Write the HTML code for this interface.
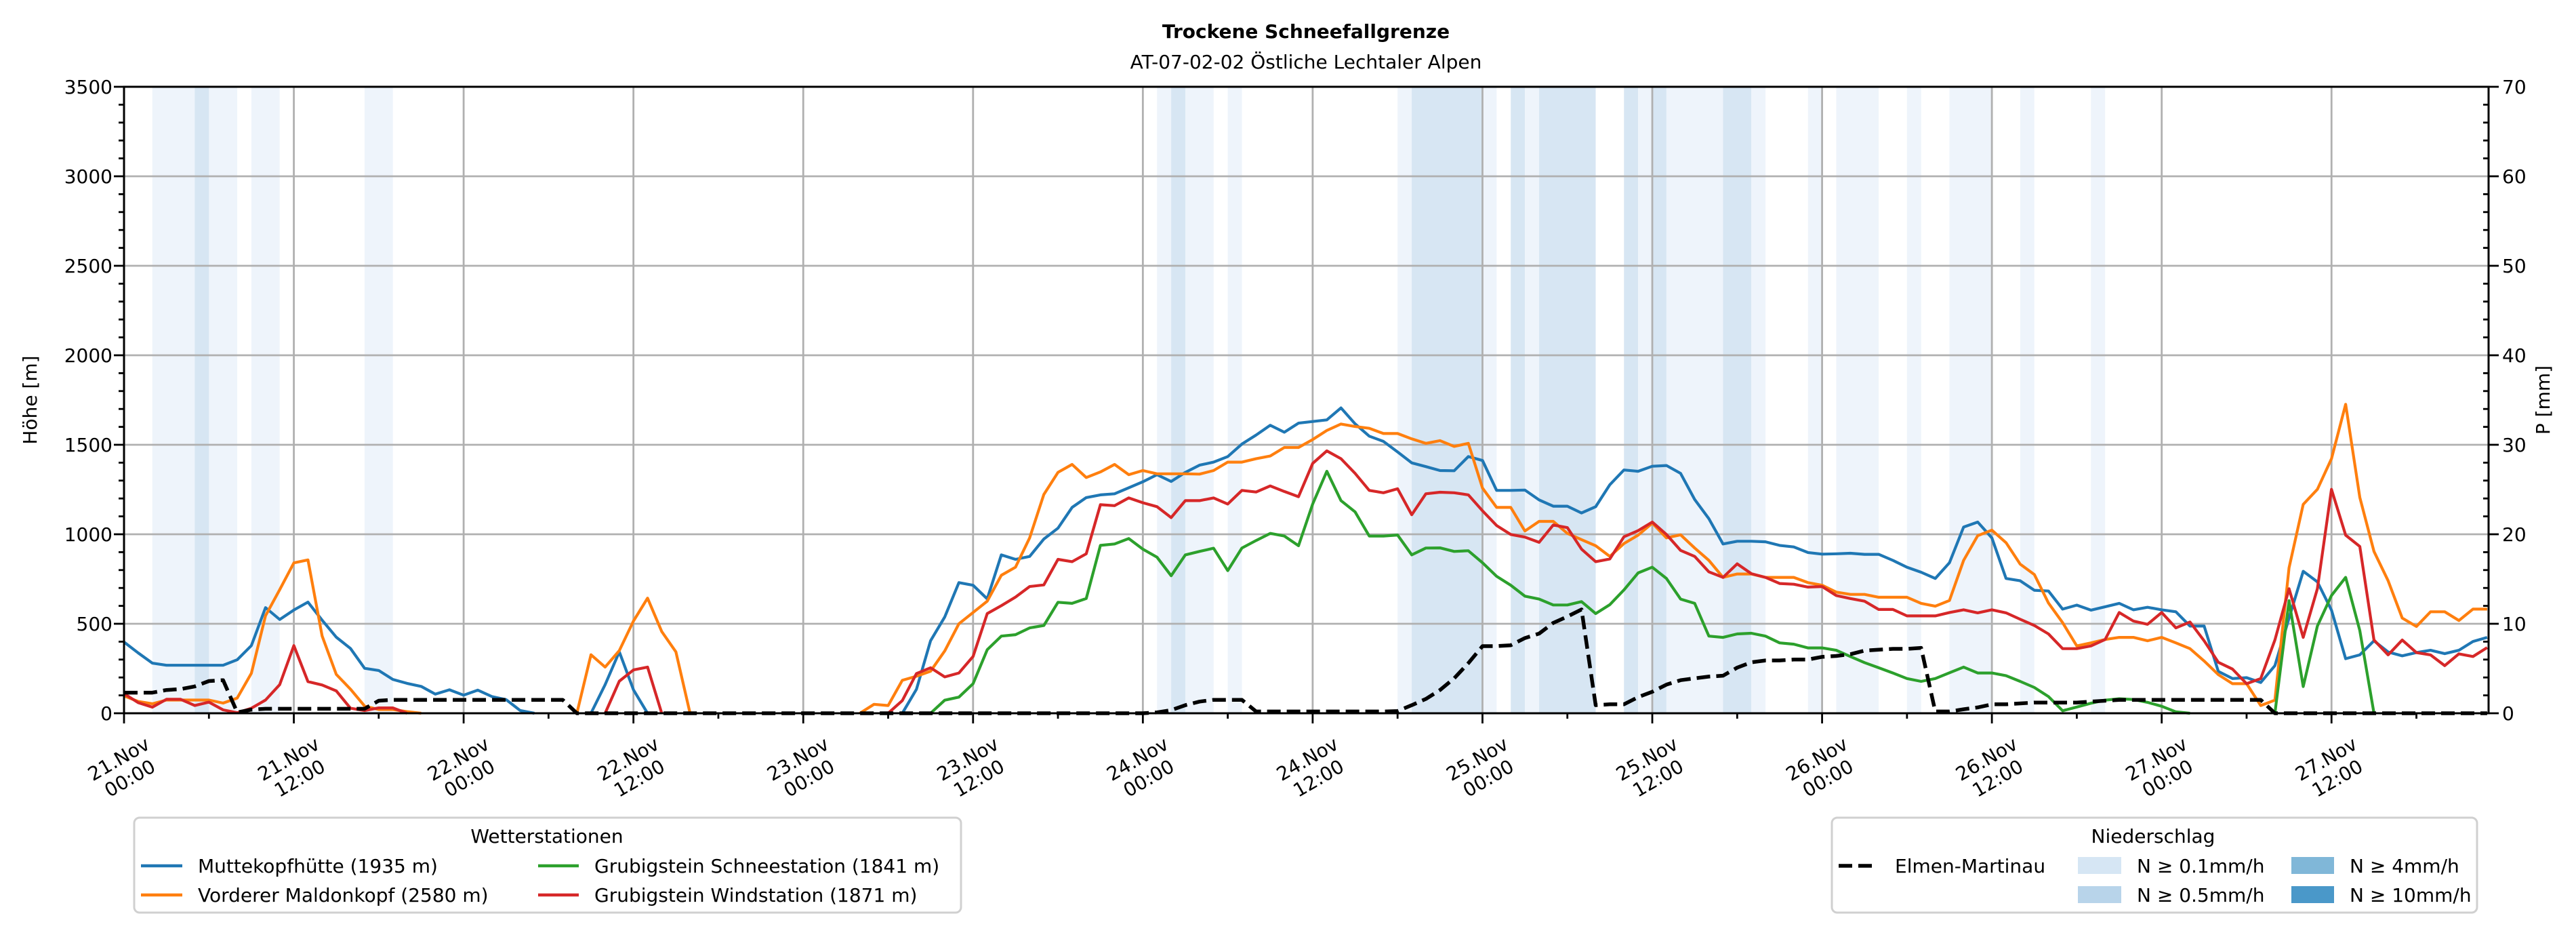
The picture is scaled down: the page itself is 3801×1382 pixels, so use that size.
<!DOCTYPE html>
<html><head><meta charset="utf-8"><style>
body{margin:0;background:#fff}
svg text{font-family:"DejaVu Sans","Liberation Sans",sans-serif;fill:#000}
</style></head><body>
<svg id="chart" xmlns="http://www.w3.org/2000/svg" width="3801" height="1377" viewBox="0 0 3801 1377">
<rect x="0" y="0" width="3801" height="1377" fill="#fff"/>
<g id="bands"></g>
<g id="grid"></g>
<g id="series"></g>
<g id="axes"></g>
<text x="1927" y="56" font-size="28" font-weight="bold" text-anchor="middle">Trockene Schneefallgrenze</text>
<text x="1927" y="101" font-size="28" text-anchor="middle">AT-07-02-02 Östliche Lechtaler Alpen</text>
<text transform="translate(54,590) rotate(-90)" font-size="28" text-anchor="middle">Höhe [m]</text>
<text transform="translate(3762,590) rotate(-90)" font-size="28" text-anchor="middle">P [mm]</text>

<g>
<rect x="198" y="1206" width="1220" height="140" rx="8" fill="#fff" stroke="#d0d0d0" stroke-width="3"/>
<text x="807" y="1243" font-size="28" text-anchor="middle">Wetterstationen</text>
<g><line x1="208" y1="1277" x2="269" y2="1277" stroke="#1f77b4" stroke-width="4.5"/><text x="292" y="1287" font-size="28">Muttekopfhütte (1935 m)</text></g>
<g><line x1="208" y1="1320" x2="269" y2="1320" stroke="#ff7f0e" stroke-width="4.5"/><text x="292" y="1330" font-size="28">Vorderer Maldonkopf (2580 m)</text></g>
<g><line x1="794" y1="1277" x2="854" y2="1277" stroke="#2ca02c" stroke-width="4.5"/><text x="877" y="1287" font-size="28">Grubigstein Schneestation (1841 m)</text></g>
<g><line x1="794" y1="1320" x2="854" y2="1320" stroke="#d62728" stroke-width="4.5"/><text x="877" y="1330" font-size="28">Grubigstein Windstation (1871 m)</text></g>
</g>

<g>
<rect x="2703" y="1206" width="952" height="140" rx="8" fill="#fff" stroke="#d0d0d0" stroke-width="3"/>
<text x="3177" y="1243" font-size="28" text-anchor="middle">Niederschlag</text>
<g><line x1="2713" y1="1277" x2="2768" y2="1277" stroke="#000" stroke-width="5.5" stroke-dasharray="20,9"/><text x="2796" y="1287" font-size="28">Elmen-Martinau</text></g>
<g><rect x="3066" y="1264" width="64" height="25" fill="#d6e6f4"/><text x="3153" y="1287" font-size="28">N ≥ 0.1mm/h</text></g>
<g><rect x="3066" y="1307" width="64" height="25" fill="#b8d4ea"/><text x="3153" y="1330" font-size="28">N ≥ 0.5mm/h</text></g>
<g><rect x="3381" y="1264" width="63" height="25" fill="#80b7d8"/><text x="3467" y="1287" font-size="28">N ≥ 4mm/h</text></g>
<g><rect x="3381" y="1307" width="63" height="25" fill="#4a98c9"/><text x="3467" y="1330" font-size="28">N ≥ 10mm/h</text></g>
</g>
</svg>
<script>
const N = null;
// hours since 21.Nov 00:00
const hours = Array.from({length:168},(_, i)=>i);
const muttekopf = [398,337,280,268,268,268,268,268,299,378,590,524,577,621,520,425,362,251,239,189,167,150,107,131,101,129,93,76,15,0,N,N,N,0,160,343,131,0,N,N,N,N,N,N,N,N,N,N,N,N,N,N,N,N,N,0,134,405,538,730,715,639,885,860,876,973,1034,1150,1205,1220,1226,1260,1293,1333,1295,1346,1386,1403,1434,1504,1554,1609,1570,1621,1630,1639,1706,1617,1548,1519,1460,1399,1378,1356,1355,1434,1412,1245,1245,1247,1192,1157,1157,1119,1154,1277,1359,1352,1380,1384,1340,1194,1087,946,961,961,958,938,929,898,889,891,894,888,888,854,816,788,753,841,1040,1068,980,753,740,687,683,582,604,576,595,614,578,592,578,567,487,487,234,194,199,172,266,532,793,734,576,305,326,405,342,321,339,352,333,352,401,424];
const maldonkopf = [97,66,53,74,74,74,74,57,85,223,545,690,840,857,432,217,135,40,21,21,9,0,N,N,N,N,N,N,N,N,N,N,0,327,258,350,515,643,457,343,0,N,N,N,N,N,N,N,N,N,N,N,0,50,43,184,207,235,348,500,563,626,771,816,980,1222,1346,1390,1317,1348,1390,1333,1356,1338,1338,1338,1336,1356,1403,1403,1422,1437,1485,1485,1529,1580,1616,1602,1592,1563,1563,1533,1508,1523,1491,1508,1258,1150,1150,1018,1072,1072,1005,970,936,876,948,995,1062,980,997,923,854,759,778,778,759,759,759,730,715,677,664,664,648,648,648,614,598,630,854,992,1023,953,833,775,616,506,376,393,412,424,424,405,424,393,361,292,216,165,165,43,73,813,1167,1251,1422,1726,1206,904,740,532,485,567,567,518,582,582];
const grubSchnee = [N,N,N,N,N,N,N,N,N,N,N,N,N,N,N,N,N,N,N,N,N,N,N,N,N,N,N,N,N,N,N,N,N,N,N,N,N,N,N,N,N,N,N,N,N,N,N,N,N,N,N,N,N,N,N,N,N,0,73,90,165,355,431,439,477,490,620,614,641,938,946,976,917,872,768,885,904,922,797,923,965,1005,990,936,1169,1352,1188,1125,990,990,996,885,923,924,904,908,841,765,715,654,638,605,605,624,557,607,689,784,816,753,638,614,431,424,443,447,431,393,386,365,365,352,317,283,254,225,194,178,194,226,258,225,225,210,178,144,93,14,35,56,73,81,77,61,39,8,0,N,N,N,N,N,0,629,149,487,658,759,462,0,N,N,N,N,N,N,N,N];
const grubWind = [110,59,34,78,78,43,62,19,3,28,74,160,378,177,158,125,28,15,30,30,0,N,N,N,N,N,N,N,N,N,N,N,N,N,0,179,242,258,0,N,N,N,N,N,N,N,N,N,N,N,N,N,N,N,0,71,222,254,203,225,317,557,601,649,708,717,860,847,891,1165,1160,1203,1176,1154,1093,1188,1188,1203,1169,1245,1236,1270,1239,1210,1396,1466,1422,1340,1245,1232,1254,1109,1226,1235,1232,1220,1131,1049,999,984,955,1052,1037,917,847,862,986,1020,1068,999,910,876,790,759,835,780,759,725,721,705,708,658,641,626,580,580,544,544,544,563,578,561,578,561,525,490,443,361,361,376,412,563,515,497,563,477,510,405,285,247,165,194,409,696,424,696,1251,995,932,409,326,409,339,326,266,332,317,367];
// Elmen-Martinau precipitation sum [mm]
const elmenMm = [2.3,2.3,2.3,2.6,2.7,3.0,3.6,3.7,0.1,0.4,0.5,0.5,0.5,0.5,0.5,0.5,0.5,0.5,1.4,1.5,1.5,1.5,1.5,1.5,1.5,1.5,1.5,1.5,1.5,1.5,1.5,1.5,0,0,0,0,0,0,0,0,0,0,0,0,0,0,0,0,0,0,0,0,0,0,0,0,0,0,0,0,0,0,0,0,0,0,0,0,0,0,0,0,0,0.1,0.35,0.9,1.3,1.5,1.5,1.5,0.2,0.2,0.2,0.2,0.2,0.2,0.2,0.2,0.2,0.2,0.25,0.9,1.6,2.6,3.9,5.6,7.5,7.5,7.6,8.4,8.9,10.1,10.8,11.6,0.9,1.0,1.0,1.8,2.4,3.2,3.7,3.9,4.1,4.2,5.1,5.7,5.9,5.9,6.0,6.0,6.3,6.4,6.6,7.0,7.1,7.2,7.2,7.3,0.2,0.2,0.45,0.65,1.0,1.0,1.1,1.2,1.2,1.2,1.2,1.3,1.4,1.5,1.5,1.5,1.5,1.5,1.5,1.5,1.5,1.5,1.5,1.5,0,0,0,0,0,0,0,0,0,0,0,0,0,0,0,0];
// precipitation bands: start hour, end hour, level (1: >=0.1, 2: >=0.5)
const bandStart = [2,5,9,17,73,74,75,78,90,91,96,98,99,100,106,107,108,109,113,115,119,121,126,129,134,139];
const bandEnd   = [8,6,11,19,74,75,77,79,91,96,97,99,100,104,107,108,109,113,115,116,120,124,127,132,135,140];
const bandLevel = [1,2,1,1,1,2,1,1,1,2,1,2,1,2,2,1,2,1,2,1,1,1,1,1,1,1];
const yTicks = [0,500,1000,1500,2000,2500,3000,3500];
const y2Ticks = [0,10,20,30,40,50,60,70];
const xTickHours = [0,12,24,36,48,60,72,84,96,108,120,132,144,156];
const xTickLabels = ["21.Nov|00:00","21.Nov|12:00","22.Nov|00:00","22.Nov|12:00","23.Nov|00:00","23.Nov|12:00","24.Nov|00:00","24.Nov|12:00","25.Nov|00:00","25.Nov|12:00","26.Nov|00:00","26.Nov|12:00","27.Nov|00:00","27.Nov|12:00"];

const L=183,R=3672,T=128,B=1052, XMAX=167.1, YMAX=3500, Y2MAX=70;
const X=h=>L+h*(R-L)/XMAX;
const Y=v=>B-v*(B-T)/YMAX;
const Y2=v=>B-v*(B-T)/Y2MAX;
const NS="http://www.w3.org/2000/svg";
function mk(tag,attrs,parent){const e=document.createElementNS(NS,tag);for(const k in attrs)e.setAttribute(k,attrs[k]);parent.appendChild(e);return e;}
const gB=document.getElementById('bands'),gG=document.getElementById('grid'),gS=document.getElementById('series'),gA=document.getElementById('axes');

bandStart.forEach((s,i)=>{
  const r=mk('rect',{x:X(s),y:T,width:X(bandEnd[i])-X(s),height:B-T,fill:bandLevel[i]===2?'#d7e6f3':'#eef4fb'},gB);
  
  
});
yTicks.forEach(v=>{ if(v>0&&v<YMAX){const l=mk('line',{x1:L,x2:R,y1:Y(v),y2:Y(v),stroke:'#b0b0b0','stroke-width':2.8},gG);
  
  }});
xTickHours.forEach(h=>{ if(h>0){const l=mk('line',{x1:X(h),x2:X(h),y1:T,y2:B,stroke:'#b0b0b0','stroke-width':2.8},gG);
  
  }});

function drawSeries(vals,yf,color,name,dash){
  let d='',pen=false;
  vals.forEach((v,i)=>{ if(v===null){pen=false;return;} d+=(pen?'L':'M')+X(hours[i]).toFixed(1)+','+yf(v).toFixed(1); pen=true;});
  const p=mk('path',{d:d,fill:'none',stroke:color,'stroke-width':dash?5.5:4.2,'stroke-linejoin':'round'},gS);
  if(dash)p.setAttribute('stroke-dasharray','20,9');
  
  
}
drawSeries(muttekopf,Y,'#1f77b4','line-muttekopfhuette');
drawSeries(maldonkopf,Y,'#ff7f0e','line-vorderer-maldonkopf');
drawSeries(grubSchnee,Y,'#2ca02c','line-grubigstein-schneestation');
drawSeries(grubWind,Y,'#d62728','line-grubigstein-windstation');
drawSeries(elmenMm,Y2,'#000','line-elmen-martinau',true);

// spines
const sp=mk('rect',{x:L,y:T,width:R-L,height:B-T,fill:'none',stroke:'#000','stroke-width':3},gA);


// left ticks
for(let v=0;v<=YMAX;v+=100){const maj=v%500===0;mk('line',{x1:L-(maj?15:8),x2:L,y1:Y(v),y2:Y(v),stroke:'#000','stroke-width':2.8},gA);}
yTicks.forEach(v=>{const t=mk('text',{x:L-17,y:Y(v)+10,'font-size':28,'text-anchor':'end'},gA);t.textContent=v;
  
  });
// right ticks
for(let v=0;v<=Y2MAX;v+=2){const maj=v%10===0;mk('line',{x1:maj?R:R-8,x2:maj?R+15:R,y1:Y2(v),y2:Y2(v),stroke:'#000','stroke-width':2.8},gA);}
y2Ticks.forEach(v=>{const t=mk('text',{x:R+20,y:Y2(v)+10,'font-size':28},gA);t.textContent=v;
  
  });
// bottom ticks
for(let h=0;h<=XMAX;h+=6){const maj=h%12===0;mk('line',{x1:X(h),x2:X(h),y1:B,y2:B+(maj?15:8),stroke:'#000','stroke-width':2.8},gA);}
xTickHours.forEach((h,i)=>{
  const parts=xTickLabels[i].split('|');
  const t=mk('text',{'font-size':28,'text-anchor':'middle',transform:'translate('+X(h).toFixed(1)+',1133) rotate(-30)'},gA);
  
  
  const a=mk('tspan',{x:0,y:-6},t);a.textContent=parts[0];
  const b=mk('tspan',{x:0,y:27},t);b.textContent=parts[1];
});
</script>
</body></html>
